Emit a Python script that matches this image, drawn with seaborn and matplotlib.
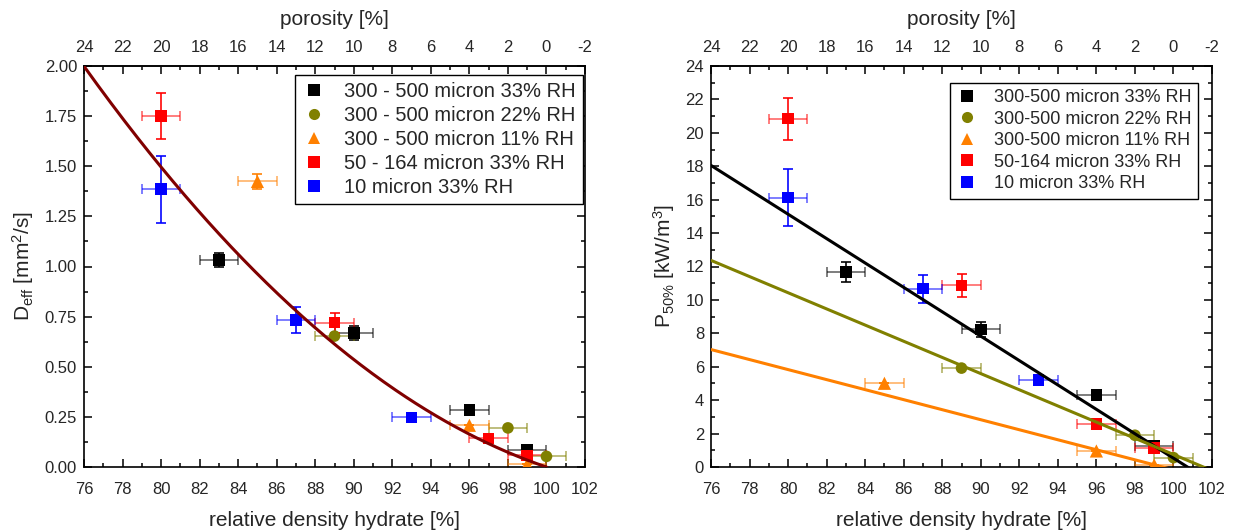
import numpy as np
import pandas as pd
import matplotlib
matplotlib.use("Agg")
import matplotlib.pyplot as plt
import seaborn as sns
from matplotlib.lines import Line2D
from matplotlib.ticker import MultipleLocator, FormatStrFormatter

sns.set_theme(style="ticks")
plt.rcParams['font.family'] = ['Liberation Sans', 'DejaVu Sans']
plt.rcParams['mathtext.fontset'] = 'custom'
plt.rcParams['mathtext.rm'] = 'Liberation Sans'
plt.rcParams['mathtext.it'] = 'Liberation Sans:italic'
plt.rcParams['mathtext.default'] = 'regular'
plt.rcParams['axes.unicode_minus'] = False

# ---------------- data ----------------
labels_left = ["300 - 500 micron 33% RH", "300 - 500 micron 22% RH",
               "300 - 500 micron 11% RH", "50 - 164 micron 33% RH",
               "10 micron 33% RH"]
labels_right = ["300-500 micron 33% RH", "300-500 micron 22% RH",
                "300-500 micron 11% RH", "50-164 micron 33% RH",
                "10 micron 33% RH"]
colors = ["#000000", "#808000", "#FF8000", "#FF0000", "#0000FF"]
markers = ["s", "o", "^", "s", "s"]

# relative density hydrate [%]
x_black = [83, 90, 96, 99]
x_olive = [89, 98, 100]
x_orange = [85, 96, 99]
x_red_left = [80, 89, 97, 99]
x_red_right = [80, 89, 96, 99]
x_blue = [80, 87, 93]
x_err = 1.0

# D_eff [mm2/s]
deff_black = [1.033, 0.669, 0.283, 0.087]
deff_black_err = [0.035, 0.035, 0.0, 0.0]
deff_olive = [0.653, 0.195, 0.053]
deff_olive_err = [0.0, 0.0, 0.0]
deff_orange = [1.424, 0.208, 0.013]
deff_orange_err = [0.037, 0.0, 0.0]
deff_red = [1.75, 0.72, 0.143, 0.058]
deff_red_err = [0.115, 0.05, 0.0, 0.0]
deff_blue = [1.385, 0.734, 0.247]
deff_blue_err = [0.166, 0.066, 0.0]
deff_fit_coef = [0.00212, -0.4564, 24.44]   # quadratic fit in x

# P50% [kW/m3]
p50_black = [11.66, 8.24, 4.3, 1.24]
p50_black_err = [0.58, 0.45, 0.2, 0.2]
p50_olive = [5.92, 1.9, 0.56]
p50_olive_err = [0.0, 0.0, 0.0]
p50_orange = [5.01, 0.96, 0.12]
p50_orange_err = [0.0, 0.0, 0.0]
p50_red = [20.85, 10.87, 2.56, 1.12]
p50_red_err = [1.26, 0.69, 0.2, 0.2]
p50_blue = [16.12, 10.68, 5.19]
p50_blue_err = [1.69, 0.84, 0.3]
p50_fit_intercept = [73.53, 49.15, 29.83]   # black, olive, orange
p50_fit_slope = [-0.73, -0.484, -0.30]

x_min, x_max = 76, 102

# ---------------- figure ----------------
fig = plt.figure(figsize=(12.35, 5.31), dpi=100)
axL = fig.add_axes([84/1235, 1-467/531, 501/1235, 401/531])
axR = fig.add_axes([711/1235, 1-467/531, 501/1235, 401/531])

def draw_points(ax, xs_list, ys_list, yerr_list):
    for i, (xs, ys, ye) in enumerate(zip(xs_list, ys_list, yerr_list)):
        c = colors[i]
        ax.errorbar(xs, ys, xerr=x_err, fmt='none', ecolor=c, alpha=0.55,
                    elinewidth=1.3, capsize=3.5, capthick=1.3, zorder=2)
        ax.errorbar(xs, ys, yerr=ye, fmt='none', ecolor=c, alpha=0.9,
                    elinewidth=1.3, capsize=3.5, capthick=1.3, zorder=2)
        df = pd.DataFrame({"x": xs, "y": ys})
        sns.scatterplot(data=df, x="x", y="y", ax=ax, color=c, marker=markers[i],
                        s=70 if markers[i] != "^" else 90, edgecolor='none',
                        linewidth=0, zorder=3, legend=False)

# left panel
draw_points(axL,
            [x_black, x_olive, x_orange, x_red_left, x_blue],
            [deff_black, deff_olive, deff_orange, deff_red, deff_blue],
            [deff_black_err, deff_olive_err, deff_orange_err, deff_red_err, deff_blue_err])
xs_fit = np.linspace(x_min, x_max, 300)
deff_fit = np.polyval(deff_fit_coef, xs_fit)
mask = deff_fit >= 0
sns.lineplot(x=xs_fit[mask], y=deff_fit[mask], ax=axL, color="#800000",
             linewidth=2.2, zorder=4)

# right panel
draw_points(axR,
            [x_black, x_olive, x_orange, x_red_right, x_blue],
            [p50_black, p50_olive, p50_orange, p50_red, p50_blue],
            [p50_black_err, p50_olive_err, p50_orange_err, p50_red_err, p50_blue_err])
for a, b, c in zip(p50_fit_intercept, p50_fit_slope, colors[:3]):
    yy = a + b * xs_fit
    sns.lineplot(x=xs_fit, y=yy, ax=axR, color=c, linewidth=2.2, zorder=4)

def style_axis(ax, ymax, ymaj, ymin_step, yfmt, ylabel):
    ax.set_xlim(x_min, x_max)
    ax.set_ylim(0, ymax)
    ax.xaxis.set_major_locator(MultipleLocator(2))
    ax.xaxis.set_minor_locator(MultipleLocator(1))
    ax.yaxis.set_major_locator(MultipleLocator(ymaj))
    ax.yaxis.set_minor_locator(MultipleLocator(ymin_step))
    ax.yaxis.set_major_formatter(FormatStrFormatter(yfmt))
    ax.tick_params(which='both', direction='in', top=False, right=True,
                   left=True, bottom=True, labelsize=12, color='black',
                   width=1.1)
    ax.tick_params(which='major', length=5.5)
    ax.tick_params(which='minor', length=3)
    ax.tick_params(axis='x', which='both', pad=11)
    ax.tick_params(axis='y', which='both', pad=5)
    for s in ax.spines.values():
        s.set_visible(True)
        s.set_color('black')
        s.set_linewidth(1.2)
    ax.set_xlabel("relative density hydrate [%]", fontsize=15, labelpad=10)
    ax.set_ylabel(ylabel, fontsize=15, labelpad=6)
    sec = ax.secondary_xaxis('top', functions=(lambda v: 100 - v, lambda v: 100 - v))
    sec.set_xticks(np.arange(24, -3, -2))
    sec.xaxis.set_minor_locator(MultipleLocator(1))
    sec.tick_params(which='both', direction='in', labelsize=12, width=1.1,
                    color='black', pad=8)
    sec.tick_params(which='major', length=5.5)
    sec.tick_params(which='minor', length=3)
    sec.set_xlabel("porosity [%]", fontsize=15, labelpad=11)
    return sec

style_axis(axL, 2.0, 0.25, 0.125, "%.2f", r"D$_{eff}$ [mm$^2$/s]")
style_axis(axR, 24, 2, 1, "%d", r"P$_{50\%}$ [kW/m$^3$]")

def add_legend(ax, labels, fs, anchor):
    handles = [Line2D([], [], linestyle='none', marker=m, color=c,
                      markersize=8 if m != "^" else 9, markeredgewidth=0)
               for m, c in zip(markers, colors)]
    leg = ax.legend(handles, labels, loc='upper right', bbox_to_anchor=anchor,
                    borderaxespad=0, frameon=True, fancybox=False,
                    edgecolor='black', framealpha=1, fontsize=fs,
                    handlelength=1.2, handletextpad=0.9, labelspacing=0.25,
                    borderpad=0.35)
    leg.get_frame().set_linewidth(1.0)
    leg.set_zorder(10)

add_legend(axL, labels_left, 14.5, (0.996, 0.978))
add_legend(axR, labels_right, 13, (0.972, 0.958))

fig.savefig("out.png", dpi=100)
